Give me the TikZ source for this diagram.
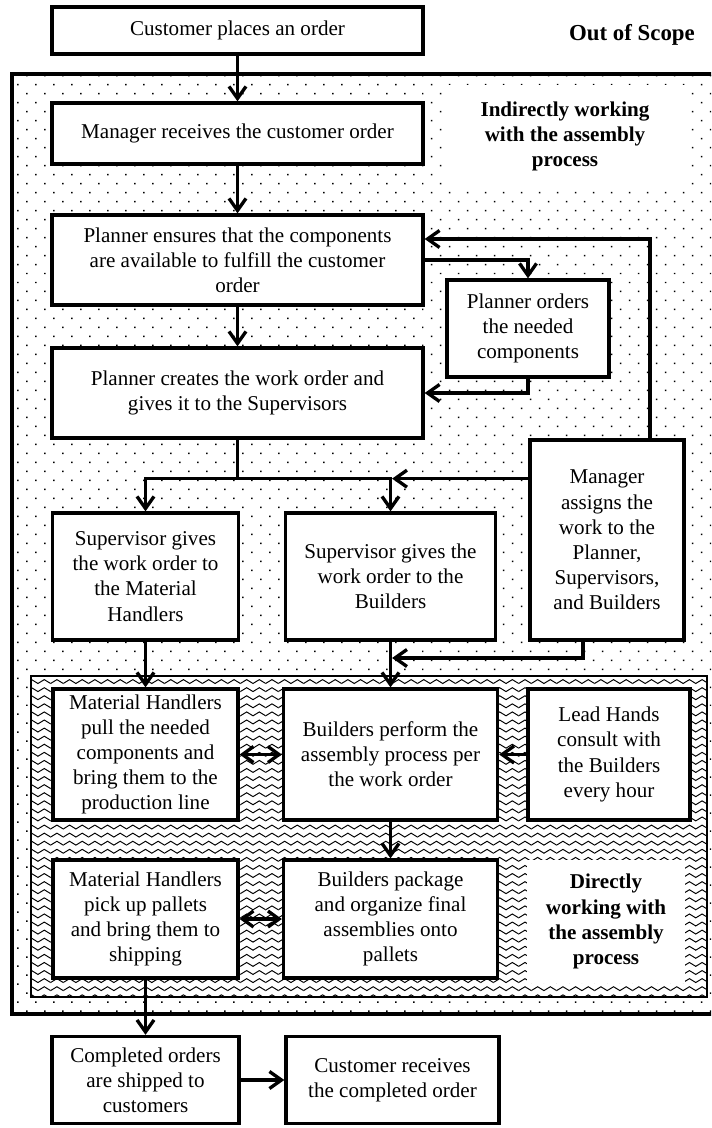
\documentclass[tikz,border=0pt]{standalone}
\usepackage{fontspec}
\setmainfont{Liberation Serif}
\usetikzlibrary{arrows.meta,patterns.meta}

\pgfdeclarelayer{background}
\pgfsetlayers{background,main}

\tikzdeclarepattern{
  name=zigzag,
  type=uncolored,
  bounding box={(0,-0.4pt) and (7.2pt,2.6pt)},
  tile size={(7.2pt,4.6pt)},
  code={
    \draw[line width=0.55pt] (-3.6pt,2.2pt) -- (0,0) -- (3.6pt,2.2pt) -- (7.2pt,0) -- (10.8pt,2.2pt);
  }
}

\begin{document}
\begin{tikzpicture} [
            x=0.02cm,
            y=-0.02cm,
            font=\fontsize{12}{14.3}\selectfont,
            stepbox/.style = {draw,line width=1.9pt,fill=white,align=center,inner sep=1pt},
            box size/.style 2 args = {minimum width=#1*0.02cm,minimum height=#2*0.02cm},
            region label/.style = {fill=white,align=center,inner sep=1pt,font=\fontsize{12}{14.3}\selectfont\bfseries},
            flow/.style = {draw,line width=1.9pt,-{Straight Barb[length=2.4mm,width=3.4mm]}},
            both flow/.style = {draw,line width=1.9pt,{Straight Barb[length=2.2mm,width=3.2mm]}-{Straight Barb[length=2.2mm,width=3.2mm]}},
            indirect region/.style = {draw,line width=1.9pt,pattern={Dots[angle=45,distance=7.24pt,radius=0.6pt]}},
            direct region/.style = {draw,line width=0.6pt,preaction={fill=white},pattern=zigzag}
        ]
        \useasboundingbox (0,0) rectangle (711,1128);
        % the two working regions go behind everything
        \begin{pgfonlayer}{background}
            \clip (0,0) rectangle (711,1128);
            \path[indirect region] (12,74) rectangle (716,1014);
            \path[direct region] (31,676) rectangle (707,997);
        \end{pgfonlayer}
        % region titles
        \node[font=\fontsize{13}{15}\selectfont\bfseries] (scope) at (632,35) {Out of Scope};
        \node[region label,box size={240}{103}] (indirect) at (565,136.5) {Indirectly working\\with the assembly\\process};
        \node[region label,box size={158}{123}] (direct) at (606,921.5) {Directly\\working with\\the assembly\\process};
        % First we draw the steps
        \foreach \name/\cx/\cy/\w/\h/\txt in {
                cust/237.5/30.5/371/47/{Customer places an order},
                mgrrecv/237.5/133.5/371/61/{Manager receives the customer order},
                ensure/237.5/260/371/90/{Planner ensures that the components\\are available to fulfill the customer\\order},
                orders/528/328.5/162/97/{Planner orders\\the needed\\components},
                create/237.5/393/371/90/{Planner creates the work order and\\gives it to the Supervisors},
                supmh/145.5/576.5/186/127/{Supervisor gives\\the work order to\\the Material\\Handlers},
                supb/390.5/576.5/210/127/{Supervisor gives the\\work order to the\\Builders},
                assign/607/540/154/200/{Manager\\assigns the\\work to the\\Planner,\\Supervisors,\\and Builders},
                mhpull/145.5/754.5/185/131/{Material Handlers\\pull the needed\\components and\\bring them to the\\production line},
                perform/390.5/754.5/214/131/{Builders perform the\\assembly process per\\the work order},
                lead/609/754.5/162/131/{Lead Hands\\consult with\\the Builders\\every hour},
                mhpick/145.5/919/185/118/{Material Handlers\\pick up pallets\\and bring them to\\shipping},
                pack/390.5/919/214/118/{Builders package\\and organize final\\assemblies onto\\pallets},
                shipped/145.5/1080/187/87/{Completed orders\\are shipped to\\customers},
                received/392.5/1080/213/87/{Customer receives\\the completed order}}
            \node[stepbox,box size={\w}{\h}] (\name) at (\cx,\cy) {\txt};
        % Connect the steps
        \foreach \source/\dest in {
                cust/mgrrecv, mgrrecv/ensure, ensure/create, supmh/mhpull, supb/perform,
                lead/perform, perform/pack, mhpick/shipped, shipped/received}
            \path[flow] (\source) -- (\dest);
        \foreach \source/\dest in {mhpull/perform, mhpick/pack}
            \path[both flow] (\source) -- (\dest);
        % ordering loop of the planner
        \path[flow] (ensure.east) -| (orders.north);
        \path[flow] (orders.south) |- (create.east);
        % the manager's assignments
        \coordinate (fbtop) at (650,239);
        \path[flow] (fbtop |- assign.north) -- (fbtop) -- (fbtop -| ensure.east);
        \path (create.south) ++(0,39) coordinate (split);
        \path[draw,line width=1.9pt] (create.south) -- (split);
        \path[flow] (split) -| (supmh.north);
        \path[flow] (split) -| (supb.north);
        \path[flow,shorten >=0.9pt] (assign.west |- split) -- (split -| supb.north);
        \coordinate (fbbot) at (583,658);
        \path[flow,shorten >=0.9pt] (fbbot |- assign.south) -- (fbbot) -- (fbbot -| perform.north);
    \end{tikzpicture}
\end{document}
